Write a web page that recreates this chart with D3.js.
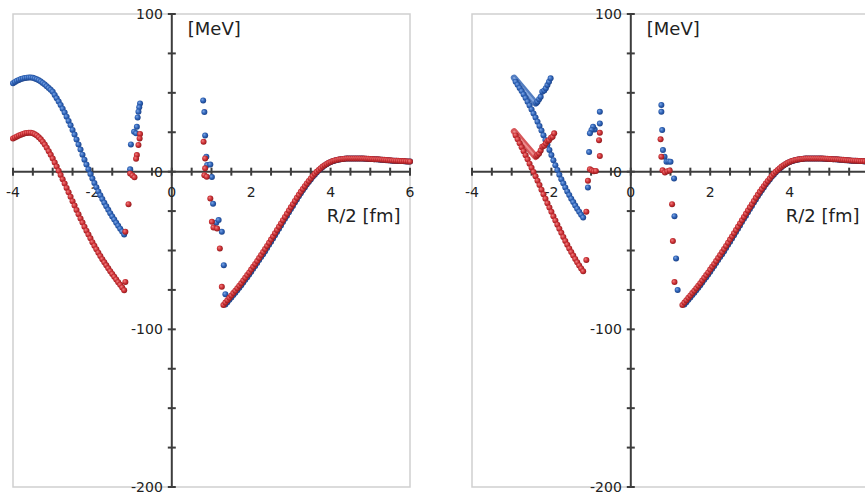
<!DOCTYPE html>
<html>
<head>
<meta charset="utf-8">
<script src="https://cdn.jsdelivr.net/npm/d3@7"></script>
<style>
  body { margin: 0; background: #fff; }
  svg { display: block; font-family: "DejaVu Sans", sans-serif; }
</style>
</head>
<body>
<div id="chart"></div>
<script>
// sampling grid of the dense curves (R/2 in fm)
const gridStep = 0.05;

// left panel, left branch (starts at -4.00)
const leftBlueStart = -4.0;
const leftBlueY = [56.0, 56.9, 57.6, 58.2, 58.7, 59.1, 59.4, 59.6, 59.7, 59.7,
  59.5, 59.1, 58.6, 58.0, 57.2, 56.3, 55.3, 54.2, 53.0, 51.9,
  50.7, 48.7, 46.6, 44.5, 42.3, 39.9, 37.5, 34.9, 32.2, 29.4,
  26.5, 23.5, 20.4, 17.2, 14.0, 10.8, 7.6, 4.5, 1.5, -1.5,
  -4.4, -7.2, -9.9, -12.5, -15.0, -17.4, -19.7, -22.0, -24.2, -26.3,
  -28.4, -30.4, -32.4, -34.3, -36.2, -38.0, -39.8];
const leftRedStart = -4.0;
const leftRedY = [21.0, 21.7, 22.3, 22.9, 23.4, 23.9, 24.3, 24.6, 24.7, 24.7,
  24.4, 23.8, 23.0, 21.9, 20.6, 19.0, 17.2, 15.2, 13.0, 10.7,
  8.3, 5.8, 3.2, 0.6, -2.1, -4.8, -7.5, -10.3, -13.1, -15.9,
  -18.7, -21.5, -24.3, -27.0, -29.7, -32.3, -34.9, -37.4, -39.9, -42.3,
  -44.7, -47.0, -49.2, -51.4, -53.5, -55.5, -57.5, -59.4, -61.3, -63.1,
  -64.9, -66.7, -68.4, -70.1, -71.8, -73.5, -75.2];

// right panel, left branch (starts at -2.90)
const rightBlueStart = -2.9;
const rightBlueY = [57.0, 55.1, 53.1, 51.1, 49.0, 46.7, 44.4, 42.0, 39.5, 36.9,
  34.3, 31.7, 29.0, 26.1, 23.1, 20.1, 17.0, 13.8, 10.5, 7.2,
  4.0, 1.0, -2.0, -4.8, -7.4, -10.0, -12.5, -14.8, -17.1, -19.3,
  -21.5, -23.5, -25.4, -27.3, -29.1];
const rightRedStart = -2.9;
const rightRedY = [23.0, 20.5, 18.0, 15.5, 13.0, 10.4, 7.8, 5.1, 2.5, -0.2,
  -2.9, -5.7, -8.5, -11.4, -14.3, -17.2, -20.0, -22.8, -25.5, -28.3,
  -31.0, -33.6, -36.2, -38.8, -41.4, -43.9, -46.3, -48.7, -51.0, -53.2,
  -55.4, -57.5, -59.5, -61.4, -63.2];

// right branch, same in both panels
const wellRedStart = 1.3;
const wellRedY = [-84.5, -83.0, -81.5, -80.0, -78.5, -77.0, -75.5, -73.9, -72.3, -70.7,
  -69.0, -67.3, -65.6, -63.9, -62.1, -60.3, -58.5, -56.7, -54.8, -52.9,
  -51.0, -49.1, -47.1, -45.1, -43.1, -41.1, -39.0, -37.0, -34.9, -32.8,
  -30.8, -28.7, -26.7, -24.6, -22.6, -20.6, -18.6, -16.6, -14.7, -12.8,
  -11.0, -9.2, -7.5, -5.9, -4.3, -2.8, -1.4, -0.1, 1.1, 2.2,
  3.2, 4.1, 4.9, 5.6, 6.2, 6.7, 7.1, 7.4, 7.7, 7.9,
  8.1, 8.2, 8.3, 8.4, 8.4, 8.4, 8.4, 8.4, 8.4, 8.4,
  8.3, 8.3, 8.2, 8.2, 8.1, 8.0, 7.9, 7.9, 7.8, 7.7,
  7.6, 7.5, 7.4, 7.3, 7.2, 7.1, 7.0, 7.0, 6.9, 6.8,
  6.7, 6.7, 6.6, 6.5, 6.4];
const wellBlueStart = 1.35;
const wellBlueY = [-84.3, -82.8, -81.3, -79.8, -78.3, -76.8, -75.2, -73.6, -72.0, -70.3,
  -68.6, -66.9, -65.2, -63.4, -61.6, -59.8, -58.0, -56.1, -54.2, -52.3,
  -50.4, -48.4, -46.4, -44.4, -42.4, -40.3, -38.3, -36.2, -34.1, -32.0,
  -29.9, -27.9, -25.8, -23.7, -21.7, -19.6, -17.6, -15.6, -13.7, -11.8,
  -10.0, -8.2, -6.5, -4.9, -3.3, -1.9, -0.5, 0.8, 1.9, 3.0,
  3.9, 4.7, 5.5, 6.1, 6.6, 7.0, 7.4, 7.6, 7.9, 8.0,
  8.2, 8.3, 8.3, 8.4, 8.4, 8.4, 8.4, 8.4, 8.3, 8.3,
  8.2, 8.2, 8.1, 8.0, 8.0, 7.9, 7.8, 7.7, 7.6, 7.5,
  7.4, 7.3, 7.2, 7.1, 7.0, 7.0, 6.9, 6.8, 6.7, 6.7,
  6.6, 6.5, 6.5, 6.4];

// loose points near R/2 = +-1
const leftScatterBlue = [[-0.80, 43.3], [-0.82, 40.8], [-0.84, 38.0], [-0.86, 34.4], [-0.88, 28.5],
  [-0.95, 25.3], [-0.90, 24.3], [-1.03, 17.3], [-1.05, 1.5],
  [0.79, 45.2], [0.82, 37.8], [0.84, 23.0], [0.87, 9.5], [0.89, 4.2], [0.97, 4.5], [1.01, -3.4],
  [1.04, -20.3], [1.12, -32.4], [1.18, -30.7], [1.26, -38.1], [1.31, -59.3], [1.35, -77.7]];
const leftScatterRed = [[-0.80, 23.9], [-0.81, 21.1], [-0.84, 16.9], [-0.88, 10.5], [-0.90, 8.2],
  [-1.05, -1.1], [-0.99, -2.4], [-0.94, -3.6], [-1.09, -20.6], [-1.17, -38.1], [-1.17, -69.9],
  [0.80, 19.0], [0.84, 8.4], [0.84, 2.1], [0.82, -2.2], [0.88, -3.2], [0.97, -17.0],
  [1.01, -31.8], [1.05, -35.4], [1.14, -36.0], [1.21, -48.7], [1.26, -73.0]];
const rightScatterBlue = [[-0.78, 38.0], [-0.78, 30.6], [-0.91, 26.8], [-0.95, 28.5], [-0.99, 26.4],
  [-1.03, 24.3], [-1.05, 12.4], [-1.08, -10.0],
  [0.77, 42.3], [0.77, 38.0], [0.79, 26.4], [0.81, 13.7], [0.85, 9.5], [0.90, 6.3], [0.95, 6.5],
  [1.00, 6.3], [1.09, -4.3], [1.10, -28.2], [1.14, -55.0], [1.18, -75.0]];
const rightScatterRed = [[-0.78, 24.7], [-0.80, 20.0], [-0.78, 9.9], [-1.03, 1.5], [-0.98, 0.8],
  [-0.93, 0.3], [-0.88, 0.5], [-1.08, -5.8], [-1.12, -25.4], [-1.12, -56.0],
  [0.75, 20.5], [0.77, 9.5], [0.80, 0.9], [0.86, -0.5], [0.92, 0.2], [0.98, 0.8],
  [1.04, -20.6], [1.06, -44.0], [1.10, -70.0]];

// right panel: thick band and the rising arm next to it
const bandBlue = [[-2.94, 59.5], [-2.70, 52.3], [-2.40, 43.3]];
const bandRed = [[-2.94, 25.5], [-2.70, 18.3], [-2.40, 9.5]];
const armBlue = [[-2.38, 43.6], [-2.35, 44.4], [-2.31, 46.0], [-2.27, 47.5], [-2.23, 50.7], [-2.18, 51.5],
  [-2.14, 52.9], [-2.10, 55.0], [-2.06, 57.0], [-2.02, 59.2]];
const armRed = [[-2.38, 9.8], [-2.35, 10.5], [-2.31, 11.6], [-2.27, 13.5], [-2.23, 15.8], [-2.18, 16.5],
  [-2.14, 18.0], [-2.10, 19.5], [-2.06, 20.0], [-2.01, 21.5], [-1.97, 22.1], [-1.93, 24.3]];

// axis ticks and labels
const xDomain = [-4, 6];
const yDomain = [-200, 100];
const xTicks = d3.range(-4, 6.001, 0.5);
const yTicks = d3.range(-200, 100.001, 25);
const xTickLabels = [-4, -2, 0, 2, 4, 6];
const yTickLabels = [100, 0, -100, -200];
const yTitle = "[MeV]";
const xTitle = "R/2 [fm]";

const W = 865, H = 495;
const svg = d3.select("#chart").append("svg").attr("width", W).attr("height", H);

// shaded ball look
const defs = svg.append("defs");
function ball(id, hi, mid, lo) {
  const g = defs.append("radialGradient").attr("id", id)
    .attr("cx", "45%").attr("cy", "45%").attr("r", "60%").attr("fx", "35%").attr("fy", "35%");
  g.append("stop").attr("offset", "0%").attr("stop-color", hi);
  g.append("stop").attr("offset", "55%").attr("stop-color", mid);
  g.append("stop").attr("offset", "100%").attr("stop-color", lo);
}
ball("ballBlue", "#7ea6e6", "#2d62b6", "#183c80");
ball("ballRed", "#f08080", "#cc3035", "#861618");

const onGrid = (start, ys) => ys.map((v, i) => [start + i * gridStep, v]);

function drawPanel(left, branches) {
  const x = d3.scaleLinear().domain(xDomain).range([left, left + 397]);
  const y = d3.scaleLinear().domain(yDomain).range([487, 14]);
  const g = svg.append("g");

  // frame
  g.append("rect")
    .attr("x", x(xDomain[0])).attr("y", y(yDomain[1]))
    .attr("width", x(xDomain[1]) - x(xDomain[0])).attr("height", y(yDomain[0]) - y(yDomain[1]))
    .attr("fill", "none").attr("stroke", "#cfcfcf").attr("stroke-width", 1.5);

  // axes through the origin
  const ax = g.append("g").attr("stroke", "#3d3d3d").attr("stroke-width", 2);
  ax.append("line").attr("x1", x(xDomain[0])).attr("x2", x(xDomain[1])).attr("y1", y(0)).attr("y2", y(0));
  ax.append("line").attr("x1", x(0)).attr("x2", x(0)).attr("y1", y(yDomain[0])).attr("y2", y(yDomain[1]));
  ax.selectAll(".xt").data(xTicks).enter().append("line")
    .attr("x1", d => x(d)).attr("x2", d => x(d)).attr("y1", y(0) - 4).attr("y2", y(0) + 4);
  ax.selectAll(".yt").data(yTicks).enter().append("line")
    .attr("x1", x(0) - 4).attr("x2", x(0) + 4).attr("y1", d => y(d)).attr("y2", d => y(d));

  // labels that would fall past the window edge are not shown (as in the original)
  const txt = g.append("g").attr("fill", "#222").attr("font-size", 14);
  txt.selectAll(".xl").data(xTickLabels.filter(d => x(d) + 5 < W)).enter().append("text")
    .attr("x", d => x(d)).attr("y", y(0) + 25).attr("text-anchor", "middle").text(d => d);
  txt.selectAll(".yl").data(yTickLabels).enter().append("text")
    .attr("x", x(0) - 9).attr("y", d => y(d) + 5).attr("text-anchor", "end").text(d => d);
  g.append("text").attr("x", x(0) + 16).attr("y", 35).attr("font-size", 18).attr("fill", "#222").text(yTitle);
  g.append("text").attr("x", x(0) + 155).attr("y", y(0) + 50).attr("font-size", 18).attr("fill", "#222").text(xTitle);

  // thick bands (right panel only)
  const line = d3.line().x(d => x(d[0])).y(d => y(d[1]));
  (branches.bands || []).forEach(b => {
    g.append("path").attr("d", line(b.pts)).attr("fill", "none")
      .attr("stroke", b.dark).attr("stroke-width", 6.5).attr("stroke-linecap", "round").attr("opacity", 0.85);
    g.append("path").attr("d", line(b.pts)).attr("fill", "none")
      .attr("stroke", b.light).attr("stroke-width", 2).attr("stroke-linecap", "round").attr("opacity", 0.8);
  });

  // dots: blue first, red on top
  const dots = (pts, fill) => g.append("g").selectAll("circle").data(pts).enter().append("circle")
    .attr("cx", d => x(d[0])).attr("cy", d => y(d[1])).attr("r", 3).attr("fill", fill);
  branches.blue.forEach(p => dots(p, "url(#ballBlue)"));
  branches.red.forEach(p => dots(p, "url(#ballRed)"));
}

drawPanel(13, {
  blue: [onGrid(leftBlueStart, leftBlueY), onGrid(wellBlueStart, wellBlueY), leftScatterBlue],
  red: [onGrid(leftRedStart, leftRedY), onGrid(wellRedStart, wellRedY), leftScatterRed]
});
drawPanel(472, {
  bands: [{pts: bandBlue, dark: "#3566b5", light: "#8fb0e6"}, {pts: bandRed, dark: "#d0383c", light: "#f29a9a"}],
  blue: [onGrid(rightBlueStart, rightBlueY), onGrid(wellBlueStart, wellBlueY), rightScatterBlue, armBlue],
  red: [onGrid(rightRedStart, rightRedY), onGrid(wellRedStart, wellRedY), rightScatterRed, armRed]
});
</script>
</body>
</html>
